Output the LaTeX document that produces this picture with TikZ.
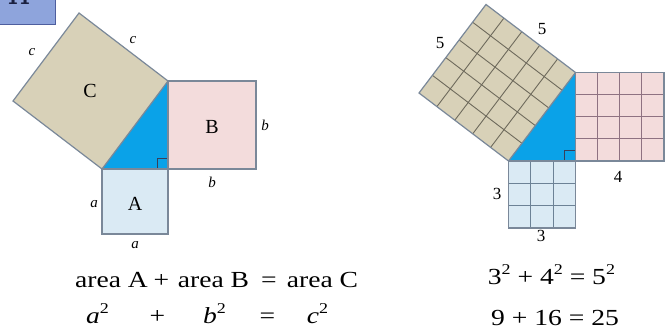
\documentclass[tikz,border=0pt]{standalone}
\usepackage{fontspec}
\setmainfont{Liberation Serif}
\newfontfamily\eqfont[FakeStretch=1.2]{Liberation Serif}
\usetikzlibrary{calc}
\definecolor{tanC}{HTML}{D8D1B8}
\definecolor{pinkB}{HTML}{F3DCDC}
\definecolor{blueA}{HTML}{DAEAF4}
\definecolor{triblue}{HTML}{0AA2E8}
\definecolor{edgecol}{HTML}{7A8899}
\definecolor{gridCcol}{HTML}{6E6A5C}
\definecolor{gridBcol}{HTML}{8E7282}
\definecolor{gridAcol}{HTML}{6C8296}
\definecolor{boxblue}{HTML}{8EA4DC}
\definecolor{boxedge}{HTML}{4E5E9E}
\definecolor{navy}{HTML}{1A2040}
\newcommand{\sqtwo}{\raisebox{0.42em}{\fontsize{15}{15}\selectfont 2}}
\tikzset{
  edge/.style={draw=edgecol, line width=1.2pt, line join=miter},
  gridC/.style={draw=gridCcol, line width=0.9pt},
  gridB/.style={draw=gridBcol, line width=0.9pt},
  gridA/.style={draw=gridAcol, line width=0.9pt},
  rmark/.style={draw=navy!70!edgecol, line width=0.8pt},
  bigl/.style={font=\fontsize{20}{20}\selectfont, inner sep=0pt},
  sidel/.style={font=\itshape\fontsize{15}{15}\selectfont, inner sep=0pt},
  numl/.style={font=\fontsize{17}{17}\selectfont, inner sep=0pt},
  eq/.style={font=\eqfont\fontsize{23}{26}\selectfont, inner sep=0pt, anchor=base},
}
\begin{document}
\begin{tikzpicture}[x=1pt,y=-1pt]
\useasboundingbox (0,0) rectangle (668,334);
\fill[white] (0,0) rectangle (668,334);

% top-left tab (its number is cut off by the top edge, as in the reference)
\begin{scope}
  \clip (0,0) rectangle (55,25);
  \fill[boxblue] (0,0) rectangle (55,25);
  \node[font=\sffamily\bfseries\fontsize{22}{22}\selectfont, text=navy, anchor=base, inner sep=0pt] (tab) at (19,5) {11};
\end{scope}
\draw[boxedge, line width=1pt] (-2,-2) rectangle (55,25);

% ---------- left figure ----------
\coordinate (LR) at (168,169);
\coordinate (LT) at (168,81);
\coordinate (LL) at (102,169);
\coordinate (LTp) at (79,13);
\coordinate (LLp) at (13,101);
\fill[tanC] (LL) -- (LT) -- (LTp) -- (LLp) -- cycle;
\fill[blueA] (102,169) rectangle (168,234);
\fill[pinkB] (168,81) rectangle (256,169);
\fill[triblue] (LL) -- (LR) -- (LT) -- cycle;
\draw[rmark] (157,169) -- (157,158) -- (168,158);
\draw[edge] (LL) -- (LT) -- (LTp) -- (LLp) -- cycle;
\draw[edge] (102,169) rectangle (168,234);
\draw[edge] (168,81) rectangle (256,169);

\node[bigl] (labC) at (90,91) {C};
\node[bigl] (labB) at (212,127) {B};
\node[bigl] (labA) at (135,204) {A};
\node[sidel] (c1) at (32,52) {c};
\node[sidel] (c2) at (133,40) {c};
\node[sidel] (b1) at (265,125) {b};
\node[sidel] (b2) at (212,182) {b};
\node[sidel] (a1) at (94,204) {a};
\node[sidel] (a2) at (135,245) {a};

% ---------- right figure ----------
\coordinate (RR) at (575.5,161);
\coordinate (RT) at (575.5,72.5);
\coordinate (RL) at (508.5,161);
\coordinate (RTp) at (486,4.5);
\coordinate (RLp) at (419,93);
\fill[tanC] (RL) -- (RT) -- (RTp) -- (RLp) -- cycle;
\fill[blueA] (508.5,161) rectangle (575.5,228);
\fill[pinkB] (575.5,72.5) rectangle (664,161);
\fill[triblue] (RL) -- (RR) -- (RT) -- cycle;
\foreach \i in {1,...,4} {
  \draw[gridC] ($(RL)!\i/5!(RT)$) -- ($(RLp)!\i/5!(RTp)$);
  \draw[gridC] ($(RL)!\i/5!(RLp)$) -- ($(RT)!\i/5!(RTp)$);
}
\foreach \i in {1,2,3} {
  \draw[gridB] ({575.5+\i*88.5/4},72.5) -- ({575.5+\i*88.5/4},161);
  \draw[gridB] (575.5,{72.5+\i*88.5/4}) -- (664,{72.5+\i*88.5/4});
}
\foreach \i in {1,2} {
  \draw[gridA] ({508.5+\i*67/3},161) -- ({508.5+\i*67/3},228);
  \draw[gridA] (508.5,{161+\i*67/3}) -- (575.5,{161+\i*67/3});
}
\draw[rmark] (564.5,161) -- (564.5,150) -- (575.5,150);
\draw[edge] (RL) -- (RT) -- (RTp) -- (RLp) -- cycle;
\draw[edge] (508.5,161) rectangle (575.5,228);
\draw[edge] (575.5,72.5) rectangle (664,161);

\node[numl] (n5a) at (440,43) {5};
\node[numl] (n5b) at (542,29) {5};
\node[numl] (n4) at (618,177) {4};
\node[numl] (n3a) at (497,194) {3};
\node[numl] (n3b) at (541,236) {3};

% ---------- equations ----------
\node[eq] (e1a) at (111.5,287) {area A};
\node[eq] (e1b) at (161.5,287) {+};
\node[eq] (e1c) at (213.5,287) {area B};
\node[eq] (e1d) at (269,287) {=};
\node[eq] (e1e) at (322.5,287) {area C};

\node[eq] (e2a) at (97.5,323) {\itshape a\upshape\sqtwo};
\node[eq] (e2b) at (157.5,323) {+};
\node[eq] (e2c) at (214.5,323) {\itshape b\upshape\sqtwo};
\node[eq] (e2d) at (267.5,323) {=};
\node[eq] (e2e) at (317.5,323) {\itshape c\upshape\sqtwo};

\node[eq] (r1) at (551.5,284) {3\sqtwo\ + 4\sqtwo\ = 5\sqtwo};
\node[eq] (r2) at (555,325) {9 + 16 = 25};
\end{tikzpicture}
\end{document}
